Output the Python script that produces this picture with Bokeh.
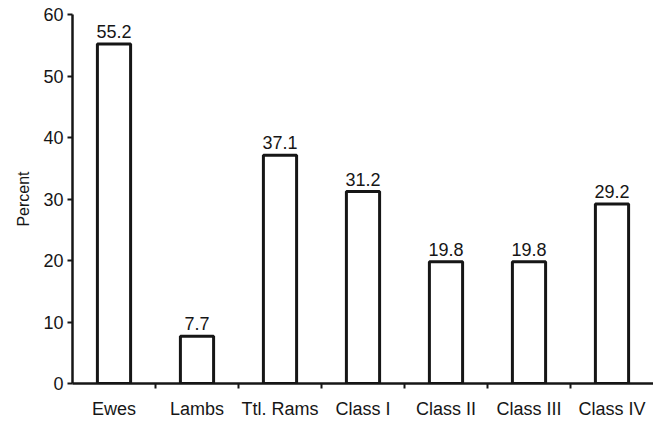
from bokeh.plotting import figure
from bokeh.models import Range1d, FixedTicker, ColumnDataSource, LabelSet
from bokeh.core.properties import value
from bokeh.embed import file_html
from bokeh.resources import INLINE

categories = ["Ewes", "Lambs", "Ttl. Rams", "Class I", "Class II", "Class III", "Class IV"]
percent = [55.2, 7.7, 37.1, 31.2, 19.8, 19.8, 29.2]
y_ticks = [0, 10, 20, 30, 40, 50, 60]

n = len(categories)
xs = [i + 0.5 for i in range(n)]
src = ColumnDataSource(dict(x=xs, top=percent, label=[f"{v:.1f}" for v in percent]))

FONT = "Liberation Sans"
INK = "#161616"

p = figure(width=653, height=421, output_backend="svg", toolbar_location=None,
           x_range=Range1d(0, n), y_range=Range1d(0, 60),
           min_border_left=72, min_border_right=0, min_border_top=14, min_border_bottom=32)
p.outline_line_color = None
p.grid.grid_line_color = None
p.background_fill_color = "white"

p.vbar(x="x", top="top", bottom=0, width=0.4, source=src,
       fill_color="white", line_color=INK, line_width=3)

labels = LabelSet(x="x", y="top", text="label", source=src, text_align="center",
                  text_baseline="alphabetic", y_offset=6, text_font=value(FONT),
                  text_font_size="18px", text_color=INK)
p.add_layout(labels)

# y axis
p.yaxis.ticker = FixedTicker(ticks=y_ticks)
p.yaxis.axis_line_width = 2.5
p.yaxis.axis_line_color = INK
p.yaxis.major_tick_line_width = 2
p.yaxis.major_tick_line_color = INK
p.yaxis.major_tick_in = 0
p.yaxis.major_tick_out = 5
p.yaxis.minor_tick_line_color = None
p.yaxis.major_label_text_font = FONT
p.yaxis.major_label_text_font_size = "18px"
p.yaxis.major_label_text_color = INK
p.yaxis.major_label_standoff = 4
p.yaxis.axis_label = "Percent"
p.yaxis.axis_label_text_font = FONT
p.yaxis.axis_label_text_font_size = "16px"
p.yaxis.axis_label_text_font_style = "normal"
p.yaxis.axis_label_text_color = INK
p.yaxis.axis_label_standoff = 8

# x axis: labels at centres, ticks at boundaries
p.xaxis.ticker = FixedTicker(ticks=xs, minor_ticks=list(range(1, n)))
p.xaxis.major_label_overrides = {x: c for x, c in zip(xs, categories)}
p.xaxis.axis_line_width = 2.5
p.xaxis.axis_line_color = INK
p.xaxis.major_tick_line_color = None
p.xaxis.major_tick_out = 0
p.xaxis.major_tick_in = 0
p.xaxis.minor_tick_line_color = INK
p.xaxis.minor_tick_line_width = 2
p.xaxis.minor_tick_in = 0
p.xaxis.minor_tick_out = 5
p.xaxis.major_label_text_font = FONT
p.xaxis.major_label_text_font_size = "18px"
p.xaxis.major_label_text_color = INK
p.xaxis.major_label_standoff = 10

open("out.html", "w").write(file_html(p, INLINE))
